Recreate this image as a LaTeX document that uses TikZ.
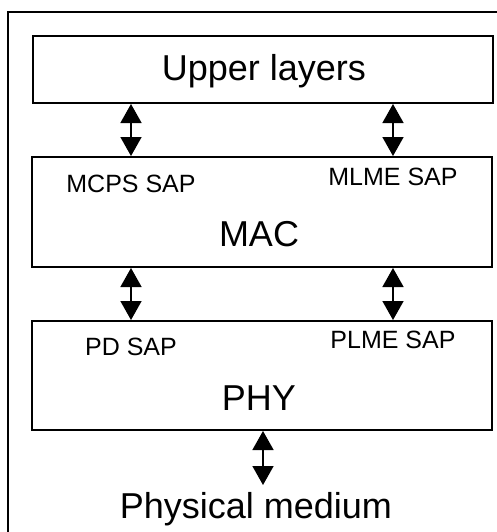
\documentclass[tikz,border=0pt]{standalone}
\usepackage{fontspec}
\setmainfont{Liberation Sans}
\usetikzlibrary{arrows.meta}
\tikzset{
	layerbox/.style={draw=black, line width=1pt, fill=none, minimum width=230pt},
	saplabel/.style={anchor=base, inner sep=0pt, font=\fontsize{12.5}{12.5}\selectfont},
	layerlabel/.style={anchor=base, inner sep=0pt, font=\fontsize{18}{18}\selectfont},
	duplex/.style={line width=0.8pt, {Triangle[width=10.5pt,length=9.5pt]}-{Triangle[width=10.5pt,length=9.5pt]}}
}

\begin{document}
\begin{tikzpicture}[x=0.5pt, y=-0.5pt]

\clip (0, 0) rectangle (497, 532);
\fill[white] (0, 0) rectangle (497, 532);

% outer frame
\draw[line width=1pt] (8, 540) -- (8, 12) -- (505, 12);

% layers
\node[layerbox, minimum height=33.5pt] (upper) at (263, 69.5) {};
\node[layerbox, minimum height=55pt]   (mac)   at (262.5, 212) {};
\node[layerbox, minimum height=54.5pt] (phy)   at (262.5, 375.5) {};

\node[layerlabel] (upperlabel) at (264, 80)  {Upper layers};
\node[layerlabel] (maclabel)   at (259, 246) {MAC};
\node[layerlabel] (phylabel)   at (259, 410) {PHY};
\node[layerlabel] (medium)     at (256, 518) {Physical medium};

\node[saplabel] (mcps) at (131, 192) {MCPS SAP};
\node[saplabel] (mlme) at (393, 185) {MLME SAP};
\node[saplabel] (pd)   at (131, 355) {PD SAP};
\node[saplabel] (plme) at (393, 348) {PLME SAP};

\coordinate (mediumtop) at (263, 485);

\draw[duplex] (upper.south -| mcps) -- (mac.north -| mcps);
\draw[duplex] (upper.south -| mlme) -- (mac.north -| mlme);
\draw[duplex] (mac.south -| pd)     -- (phy.north -| pd);
\draw[duplex] (mac.south -| plme)   -- (phy.north -| plme);
\draw[duplex] (phy.south -| mediumtop) -- (mediumtop);
\end{tikzpicture}
\end{document}
